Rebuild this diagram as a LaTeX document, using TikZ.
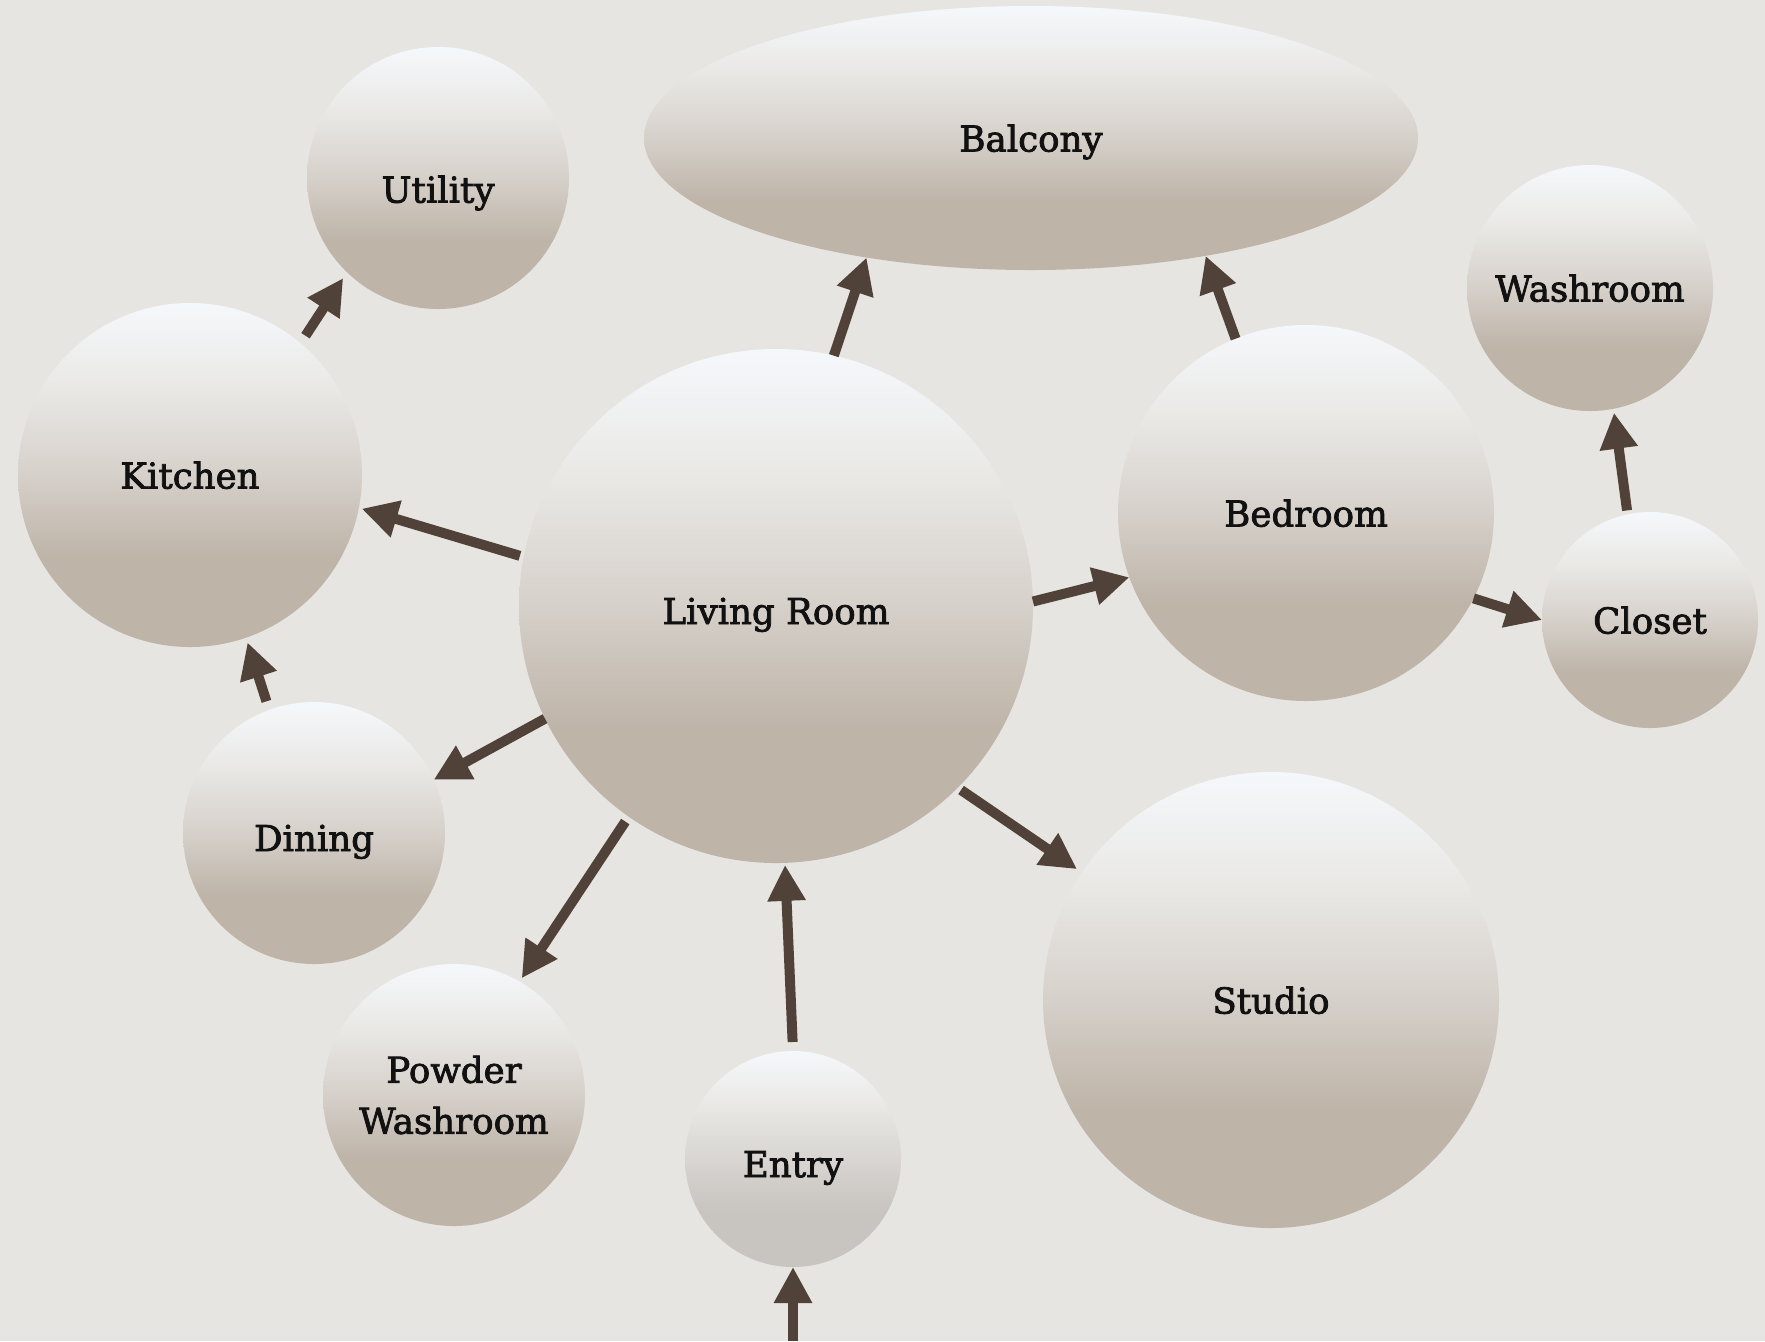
\documentclass[tikz,border=0pt]{standalone}
\usepackage{fontspec}
\setmainfont{DejaVu Serif}[BoldFont=DejaVu Serif, BoldFeatures={FakeBold=2.2}]
\usetikzlibrary{arrows.meta,shapes.geometric}
\definecolor{bg}{HTML}{E7E5E1}
\definecolor{rtop}{HTML}{F5F8FB}
\definecolor{rup}{HTML}{E9E8E5}
\definecolor{rmid}{HTML}{D6D0CA}
\definecolor{rtan}{HTML}{BEB4A8}
\definecolor{etan}{HTML}{C8C4BF}
\definecolor{emid}{HTML}{D8D5D2}
\definecolor{arr}{HTML}{504238}
\definecolor{ink}{HTML}{111111}
\pgfdeclareverticalshading{roomshade}{100bp}{color(0bp)=(rtan); color(38bp)=(rtan); color(50bp)=(rmid); color(62.5bp)=(rup); color(75bp)=(rtop); color(100bp)=(rtop)}
\pgfdeclareverticalshading{entryshade}{100bp}{color(0bp)=(etan); color(38bp)=(etan); color(50bp)=(emid); color(62.5bp)=(rup); color(75bp)=(rtop); color(100bp)=(rtop)}
\tikzset{
  room/.style={shading=roomshade, draw=none, inner sep=0pt, outer sep=0pt,
    font=\fontsize{17.8}{25.5}\selectfont\bfseries, text=ink, align=center},
  rc/.style={room, circle},
  oneline/.style={text height=#1, text depth=0pt},
  oneline/.default=13.5pt,
  lbl/.style={inner sep=0pt, outer sep=0pt, font=\fontsize{17.8}{25.5}\selectfont\bfseries, text=ink},
  link/.style={draw=arr, line width=5pt, -{Triangle[length=18pt,width=18pt]}},
}
\begin{document}
\begin{tikzpicture}[x=0.5pt,y=-0.5pt]
\fill[bg] (0,0) rectangle (1765,1341);
\useasboundingbox (0,0) rectangle (1765,1341);

\node[room, ellipse, oneline, minimum width=387pt, minimum height=132pt] (bal) at (1031,138) {Balcony};
\node[rc, minimum size=131pt] (uti) at (438,178) {};
\node[lbl] (utilbl) at (438,193) {Utility};
\node[rc, oneline, minimum size=172pt] (kit) at (190,475) {Kitchen};
\node[rc, oneline=18pt, minimum size=257pt] (liv) at (776,606) {Living Room};
\node[rc, oneline, minimum size=188pt] (bed) at (1306,513) {Bedroom};
\node[rc, oneline, minimum size=123pt] (was) at (1590,288) {Washroom};
\node[rc, oneline, minimum size=108pt] (clo) at (1650,620) {Closet};
\node[rc, oneline=18pt, minimum size=131pt] (din) at (314,833) {Dining};
\node[rc, minimum size=131pt] (pow) at (454,1095) {Powder\\Washroom};
\node[rc, oneline=18pt, shading=entryshade, minimum size=108pt] (ent) at (793,1159) {Entry};
\node[rc, oneline, minimum size=228pt] (stu) at (1271,1000) {Studio};
\coordinate (door) at (793,1341);

\draw[link] (liv.77) -- (bal.216);
\draw[link] (bed.112) -- (bal.326);
\draw[link, shorten <=4.5pt, shorten >=3.5pt] (kit.50) -- (uti.226);
\draw[link, shorten <=2pt, shorten >=1.5pt] (liv.169) -- (kit.349);
\draw[link] (liv.1) -- (bed.200);
\draw[link] (bed.333) -- (clo.180);
\draw[link, shorten <=2pt, shorten >=2pt] (clo.102) -- (was.281);
\draw[link, shorten <=4.5pt, shorten >=2.5pt] (din.110) -- (kit.289);
\draw[link] (liv.206) -- (din.24);
\draw[link, shorten <=3pt, shorten >=2pt] (liv.235) -- (pow.60);
\draw[link, shorten <=4.5pt, shorten >=1pt] (ent.90) -- (liv.272);
\draw[link, shorten <=2pt, shorten >=3pt] (liv.315) -- (stu.146);
\draw[link] (door) -- (ent.south);
\end{tikzpicture}
\end{document}
